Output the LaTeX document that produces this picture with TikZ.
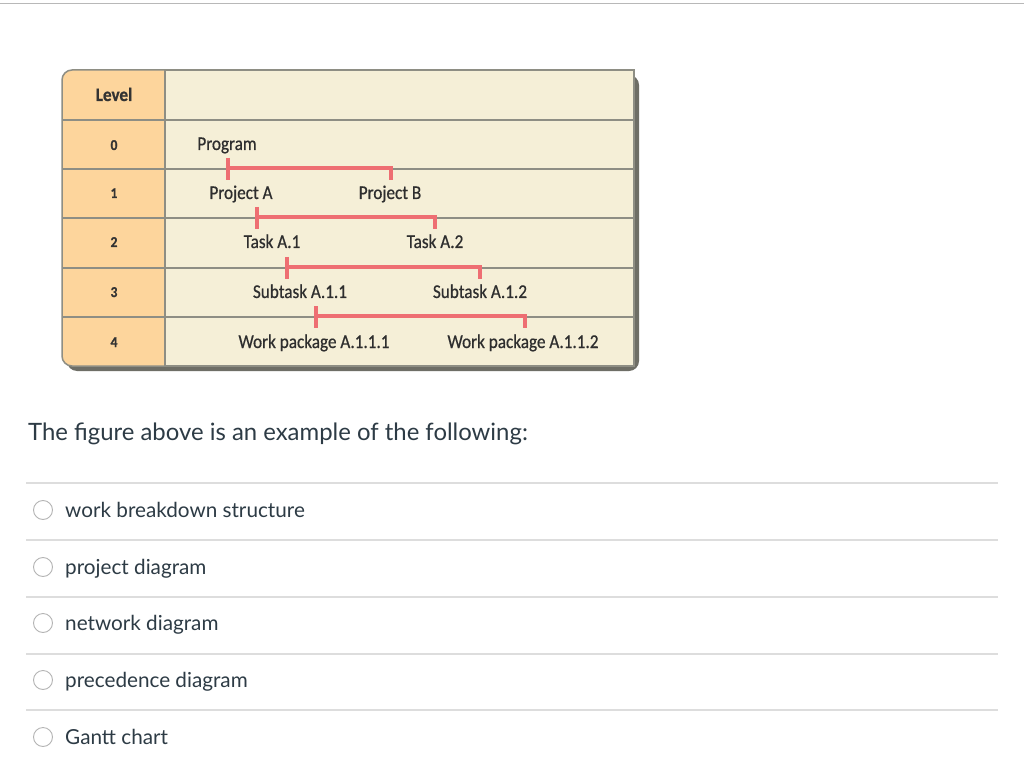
\documentclass[tikz,border=0pt]{standalone}
\usepackage{fontspec}
\newfontfamily\tabfont[FakeStretch=0.88,FakeBold=0.6]{Carlito}
\newfontfamily\tabboldfont[FakeStretch=0.9,FakeBold=0.8]{Carlito Bold}
\newfontfamily\latofont{Lato}
\begin{document}
\begin{tikzpicture}[x=1pt,y=-1pt,
  tabtxt/.style={font=\tabfont\fontsize{19.5}{20}\selectfont, text=black!82, inner sep=0pt, anchor=base},
  lvltxt/.style={font=\tabboldfont\fontsize{15}{18}\selectfont, text=black!80, inner sep=0pt, anchor=base},
  brk/.style={draw=brkred, line width=4pt},
  rowline/.style={draw=gridgray, line width=1.2pt},
  qtxt/.style={font=\latofont\fontsize{23.9}{28}\selectfont, text=canvas, inner sep=0pt, anchor=base west},
  opttxt/.style={font=\latofont\fontsize{20.7}{24}\selectfont, text=canvas, inner sep=0pt, anchor=base west},
  radio/.style={draw=radiogray, line width=0.9pt, fill=white},
  sep/.style={draw=sepgray, line width=1.4pt}
]
\definecolor{brkred}{HTML}{EE6E72}
\definecolor{gridgray}{HTML}{8E8E84}
\definecolor{lvlfill}{HTML}{FDD59C}
\definecolor{cellfill}{HTML}{F5EFD7}
\definecolor{shadowgray}{HTML}{6E6E66}
\definecolor{canvas}{HTML}{2D3B45}
\definecolor{radiogray}{HTML}{B4B4B4}
\definecolor{sepgray}{HTML}{DDDDDD}
\definecolor{topgray}{HTML}{B8B8B8}
\useasboundingbox (0,0) rectangle (1024,775);
\fill[white] (0,0) rectangle (1024,775);
% top rule
\draw[draw=topgray, line width=1.5pt] (0,3.5) -- (1024,3.5);
% table shadow
\fill[shadowgray, rounded corners=10pt] (67,75) rectangle (639,371);
% table body
\fill[lvlfill, rounded corners=10pt] (62,70) rectangle (175,366);
\fill[cellfill] (165,70) rectangle (634,366);
% grid
\foreach \yy in {120,169,218,268,317} \draw[rowline] (62,\yy) -- (634,\yy);
\draw[rowline] (165,70) -- (165,366);
\draw[draw=gridgray, line width=1.5pt] (165,70) -- (634,70) -- (634,366) -- (165,366);
\draw[draw=gridgray, line width=1.5pt, rounded corners=10pt] (165,70) -- (62,70) -- (62,366) -- (165,366);
% level column
\node[lvltxt, font=\tabboldfont\fontsize{19}{20}\selectfont] (lvl) at (114,101) {Level};
\node[lvltxt] (l0) at (114,150) {0};
\node[lvltxt] (l1) at (114,198) {1};
\node[lvltxt] (l2) at (114,247) {2};
\node[lvltxt] (l3) at (114,297) {3};
\node[lvltxt] (l4) at (114,347) {4};
% hierarchy labels
\node[tabtxt] (prog) at (227,150) {Program};
\node[tabtxt] (pa) at (241,199) {Project A};
\node[tabtxt] (pb) at (390,199) {Project B};
\node[tabtxt] (ta1) at (272,248) {Task A.1};
\node[tabtxt] (ta2) at (435,248) {Task A.2};
\node[tabtxt] (st1) at (300,298) {Subtask A.1.1};
\node[tabtxt] (st2) at (480,298) {Subtask A.1.2};
\node[tabtxt] (wp1) at (314,348) {Work package A.1.1.1};
\node[tabtxt] (wp2) at (523,348) {Work package A.1.1.2};
% brackets
\coordinate (b0a) at (228,158); \coordinate (b0b) at (228,180); \coordinate (b0r) at (391,180);
\coordinate (b1a) at (257,207); \coordinate (b1b) at (257,229); \coordinate (b1r) at (435,229);
\coordinate (b2a) at (287,257); \coordinate (b2b) at (287,279); \coordinate (b2r) at (480,279);
\coordinate (b3a) at (316,306); \coordinate (b3b) at (316,328); \coordinate (b3r) at (525,328);
\draw[brk] (b0a) -- (b0b); \draw[brk] (b0a |- 0,168) -| (b0r);
\draw[brk] (b1a) -- (b1b); \draw[brk] (b1a |- 0,217) -| (b1r);
\draw[brk] (b2a) -- (b2b); \draw[brk] (b2a |- 0,267) -| (b2r);
\draw[brk] (b3a) -- (b3b); \draw[brk] (b3a |- 0,316) -| (b3r);
% question
\node[qtxt] (q) at (28,440) {The figure above is an example of the following:};
\foreach \yy in {483,540,597,654,710} \draw[sep] (26,\yy) -- (998,\yy);
\node[radio, circle, minimum size=19pt, inner sep=0pt] (r1) at (43,510) {};
\node[radio, circle, minimum size=19pt, inner sep=0pt] (r2) at (43,567) {};
\node[radio, circle, minimum size=19pt, inner sep=0pt] (r3) at (43,623) {};
\node[radio, circle, minimum size=19pt, inner sep=0pt] (r4) at (43,680) {};
\node[radio, circle, minimum size=19pt, inner sep=0pt] (r5) at (43,737) {};
\node[opttxt] (o1) at (65,517) {work breakdown structure};
\node[opttxt] (o2) at (65,574) {project diagram};
\node[opttxt] (o3) at (65,630) {network diagram};
\node[opttxt] (o4) at (65,687) {precedence diagram};
\node[opttxt] (o5) at (65,744) {Gantt chart};
\end{tikzpicture}
\end{document}
